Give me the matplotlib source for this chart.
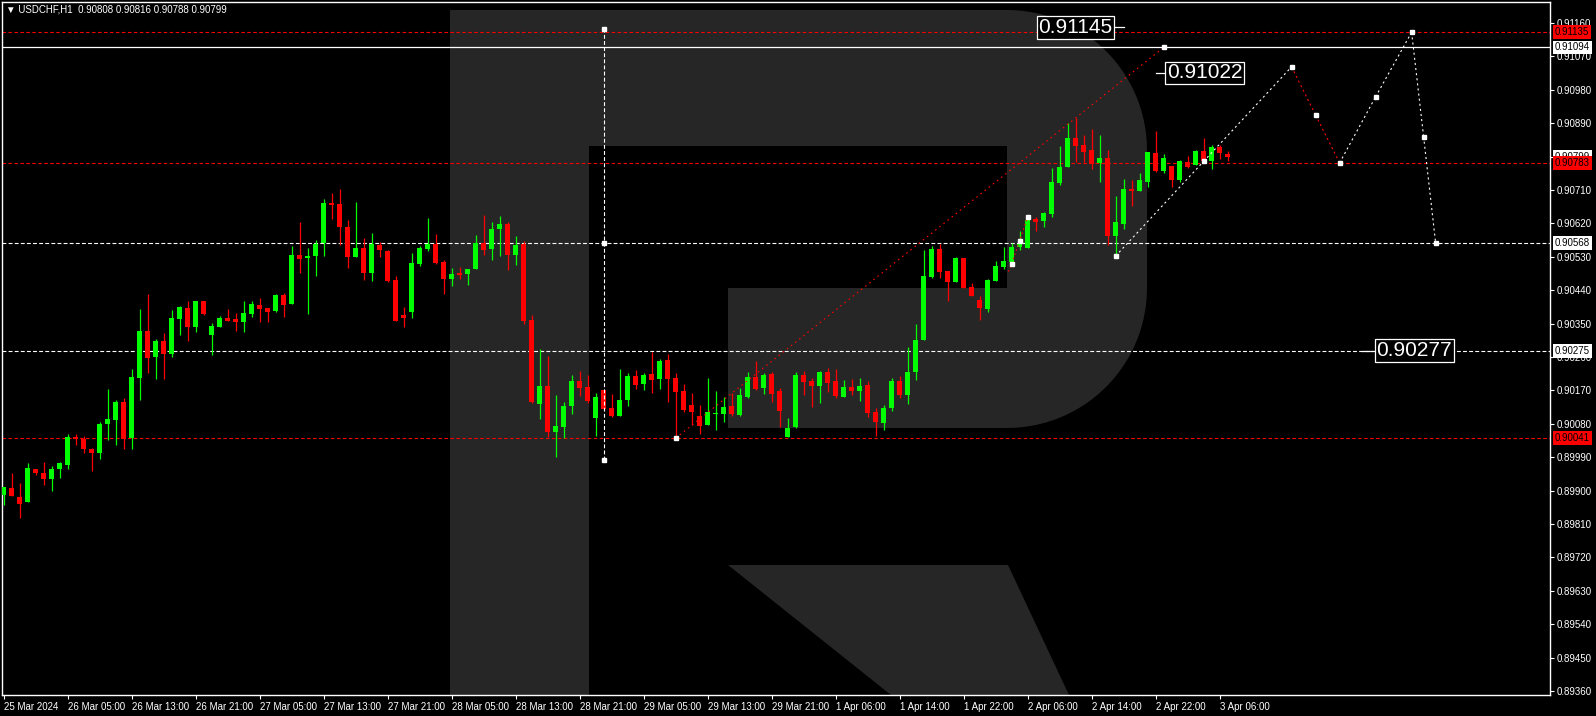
import numpy as np
import matplotlib
matplotlib.use("Agg")
import matplotlib.pyplot as plt
import matplotlib.transforms as mtransforms
from matplotlib.patches import Polygon, Rectangle

plt.rcParams['font.family'] = ['Liberation Sans', 'DejaVu Sans']
plt.rcParams['lines.scale_dashes'] = False

# USDCHF H1 candles (bar 0 .. bar 153)
opens = [0.89888, 0.89907, 0.89883, 0.89868, 0.89958, 0.89948, 0.89932, 0.89957, 0.89969, 0.90043,
         0.90040, 0.90011, 0.90002, 0.90078, 0.90091, 0.90139, 0.90041, 0.90204, 0.90330, 0.90261,
         0.90303, 0.90269, 0.90361, 0.90392, 0.90342, 0.90411, 0.90320, 0.90342, 0.90365, 0.90361,
         0.90353, 0.90377, 0.90400, 0.90392, 0.90385, 0.90427, 0.90404, 0.90535, 0.90528, 0.90533,
         0.90566, 0.90675, 0.90672, 0.90610, 0.90530, 0.90554, 0.90485, 0.90562, 0.90546, 0.90468,
         0.90372, 0.90382, 0.90511, 0.90551, 0.90565, 0.90516, 0.90470, 0.90486, 0.90484, 0.90497,
         0.90567, 0.90551, 0.90605, 0.90618, 0.90535, 0.90565, 0.90360, 0.90133, 0.90182, 0.90058,
         0.90072, 0.90128, 0.90196, 0.90179, 0.90096, 0.90171, 0.90123, 0.90101, 0.90144, 0.90209,
         0.90187, 0.90214, 0.90201, 0.90252, 0.90204, 0.90169, 0.90131, 0.90101, 0.90077, 0.90107,
         0.90107, 0.90128, 0.90104, 0.90152, 0.90206, 0.90177, 0.90214, 0.90169, 0.90045, 0.90072,
         0.90212, 0.90196, 0.90182, 0.90220, 0.90196, 0.90152, 0.90179, 0.90169, 0.90185, 0.90112,
         0.90082, 0.90123, 0.90196, 0.90158, 0.90220, 0.90306, 0.90476, 0.90551, 0.90492, 0.90462,
         0.90527, 0.90449, 0.90414, 0.90390, 0.90465, 0.90503, 0.90516, 0.90556, 0.90554, 0.90632,
         0.90627, 0.90645, 0.90729, 0.90772, 0.90850, 0.90831, 0.90818, 0.90783, 0.90796, 0.90586,
         0.90618, 0.90713, 0.90707, 0.90732, 0.90810, 0.90761, 0.90775, 0.90737, 0.90785, 0.90777,
         0.90815, 0.90788, 0.90826, 0.90808]
highs = [0.89910, 0.89947, 0.89921, 0.89974, 0.89958, 0.89977, 0.89967, 0.89977, 0.90053, 0.90053,
         0.90047, 0.90014, 0.90085, 0.90174, 0.90143, 0.90150, 0.90228, 0.90390, 0.90430, 0.90309,
         0.90325, 0.90387, 0.90398, 0.90411, 0.90411, 0.90411, 0.90352, 0.90371, 0.90390, 0.90379,
         0.90411, 0.90411, 0.90419, 0.90392, 0.90430, 0.90433, 0.90559, 0.90624, 0.90554, 0.90575,
         0.90686, 0.90702, 0.90713, 0.90629, 0.90678, 0.90581, 0.90594, 0.90570, 0.90548, 0.90478,
         0.90395, 0.90540, 0.90559, 0.90635, 0.90592, 0.90522, 0.90500, 0.90503, 0.90497, 0.90589,
         0.90643, 0.90624, 0.90640, 0.90624, 0.90586, 0.90573, 0.90373, 0.90282, 0.90263, 0.90158,
         0.90139, 0.90212, 0.90222, 0.90212, 0.90163, 0.90171, 0.90160, 0.90228, 0.90217, 0.90225,
         0.90217, 0.90274, 0.90255, 0.90268, 0.90217, 0.90187, 0.90163, 0.90131, 0.90204, 0.90169,
         0.90152, 0.90163, 0.90177, 0.90220, 0.90249, 0.90217, 0.90220, 0.90177, 0.90096, 0.90220,
         0.90222, 0.90204, 0.90222, 0.90230, 0.90228, 0.90198, 0.90201, 0.90204, 0.90196, 0.90123,
         0.90131, 0.90204, 0.90209, 0.90287, 0.90349, 0.90548, 0.90559, 0.90565, 0.90492, 0.90530,
         0.90527, 0.90460, 0.90425, 0.90470, 0.90519, 0.90557, 0.90567, 0.90600, 0.90640, 0.90637,
         0.90651, 0.90769, 0.90829, 0.90891, 0.90904, 0.90858, 0.90874, 0.90858, 0.90818, 0.90694,
         0.90740, 0.90737, 0.90756, 0.90812, 0.90869, 0.90807, 0.90775, 0.90791, 0.90802, 0.90818,
         0.90850, 0.90831, 0.90831, 0.90816]
lows = [0.89861, 0.89884, 0.89827, 0.89868, 0.89941, 0.89914, 0.89900, 0.89935, 0.89959, 0.90024,
        0.90002, 0.89954, 0.89986, 0.90035, 0.90024, 0.90011, 0.90011, 0.90145, 0.90218, 0.90201,
        0.90201, 0.90261, 0.90318, 0.90304, 0.90328, 0.90373, 0.90266, 0.90342, 0.90358, 0.90331,
        0.90326, 0.90369, 0.90355, 0.90353, 0.90380, 0.90369, 0.90404, 0.90485, 0.90377, 0.90479,
        0.90533, 0.90633, 0.90563, 0.90501, 0.90530, 0.90468, 0.90466, 0.90530, 0.90463, 0.90358,
        0.90341, 0.90366, 0.90505, 0.90546, 0.90511, 0.90430, 0.90451, 0.90470, 0.90454, 0.90497,
        0.90535, 0.90522, 0.90532, 0.90494, 0.90508, 0.90349, 0.90136, 0.90093, 0.90045, 0.89991,
        0.90042, 0.90107, 0.90155, 0.90136, 0.90047, 0.90117, 0.90098, 0.90101, 0.90128, 0.90174,
        0.90171, 0.90163, 0.90174, 0.90139, 0.90042, 0.90112, 0.90077, 0.90053, 0.90077, 0.90064,
        0.90085, 0.90101, 0.90101, 0.90150, 0.90171, 0.90160, 0.90139, 0.90072, 0.90045, 0.90069,
        0.90158, 0.90125, 0.90136, 0.90166, 0.90150, 0.90152, 0.90158, 0.90142, 0.90099, 0.90047,
        0.90064, 0.90115, 0.90150, 0.90134, 0.90198, 0.90306, 0.90473, 0.90473, 0.90411, 0.90462,
        0.90446, 0.90425, 0.90360, 0.90381, 0.90465, 0.90497, 0.90516, 0.90548, 0.90554, 0.90600,
        0.90610, 0.90637, 0.90724, 0.90772, 0.90785, 0.90785, 0.90767, 0.90732, 0.90562, 0.90532,
        0.90605, 0.90667, 0.90707, 0.90718, 0.90759, 0.90756, 0.90718, 0.90732, 0.90769, 0.90777,
        0.90788, 0.90767, 0.90794, 0.90788]
closes = [0.89910, 0.89884, 0.89865, 0.89961, 0.89946, 0.89932, 0.89958, 0.89974, 0.90044, 0.90038,
          0.90011, 0.90002, 0.90080, 0.90093, 0.90139, 0.90040, 0.90206, 0.90330, 0.90258, 0.90303,
          0.90269, 0.90365, 0.90395, 0.90342, 0.90411, 0.90377, 0.90344, 0.90365, 0.90358, 0.90353,
          0.90379, 0.90403, 0.90390, 0.90382, 0.90427, 0.90401, 0.90535, 0.90525, 0.90532, 0.90565,
          0.90675, 0.90670, 0.90611, 0.90530, 0.90554, 0.90485, 0.90565, 0.90547, 0.90466, 0.90358,
          0.90366, 0.90513, 0.90554, 0.90565, 0.90513, 0.90470, 0.90484, 0.90481, 0.90497, 0.90567,
          0.90548, 0.90605, 0.90618, 0.90535, 0.90562, 0.90357, 0.90139, 0.90182, 0.90058, 0.90074,
          0.90128, 0.90196, 0.90177, 0.90142, 0.90152, 0.90120, 0.90101, 0.90144, 0.90209, 0.90185,
          0.90212, 0.90198, 0.90249, 0.90201, 0.90166, 0.90117, 0.90112, 0.90074, 0.90112, 0.90109,
          0.90126, 0.90107, 0.90158, 0.90206, 0.90174, 0.90212, 0.90160, 0.90115, 0.90069, 0.90212,
          0.90193, 0.90182, 0.90220, 0.90190, 0.90155, 0.90179, 0.90169, 0.90182, 0.90109, 0.90085,
          0.90123, 0.90196, 0.90158, 0.90220, 0.90306, 0.90478, 0.90551, 0.90489, 0.90462, 0.90527,
          0.90446, 0.90425, 0.90392, 0.90468, 0.90505, 0.90519, 0.90557, 0.90565, 0.90629, 0.90624,
          0.90648, 0.90732, 0.90772, 0.90850, 0.90829, 0.90812, 0.90780, 0.90796, 0.90586, 0.90624,
          0.90713, 0.90707, 0.90737, 0.90812, 0.90761, 0.90796, 0.90737, 0.90788, 0.90772, 0.90815,
          0.90788, 0.90826, 0.90810, 0.90799]

time_labels = ["25 Mar 2024", "26 Mar 05:00", "26 Mar 13:00", "26 Mar 21:00", "27 Mar 05:00",
               "27 Mar 13:00", "27 Mar 21:00", "28 Mar 05:00", "28 Mar 13:00", "28 Mar 21:00",
               "29 Mar 05:00", "29 Mar 13:00", "29 Mar 21:00", "1 Apr 06:00", "1 Apr 14:00",
               "1 Apr 22:00", "2 Apr 06:00", "2 Apr 14:00", "2 Apr 22:00", "3 Apr 06:00"]
price_ticks = [0.89360, 0.89450, 0.89540, 0.89630, 0.89720, 0.89810, 0.89900, 0.89990, 0.90080,
               0.90170, 0.90260, 0.90350, 0.90440, 0.90530, 0.90620, 0.90710, 0.90800, 0.90890,
               0.90980, 0.91070, 0.91160]

# levels drawn on the chart
red_levels = [0.91135, 0.90783, 0.90041]
white_levels = [0.90568, 0.90275]
solid_level = 0.91094
bid_price = 0.90799

# analyst drawings (bar index, price)
vert_bar = 75
vert_prices = [0.89982, 0.90568, 0.91145]
trend_x = [84, 145]
trend_y = [0.90041, 0.91094]
small_x = [125.6, 126, 127, 128]
small_y = [0.90490, 0.90511, 0.90573, 0.90637]
path_x = [139, 150, 161, 164, 167, 171.5, 176, 177.5, 179]
path_y = [0.90532, 0.90787, 0.91042, 0.90912, 0.90783, 0.90961, 0.91135, 0.90854, 0.90568]
path_col = ['white', 'white', 'red', 'red', 'white', 'white', 'white', 'white']
tags = ["0.91145", "0.91022", "0.90277"]
tag_x = [139.9, 143.7, 170.2]
tag_y = [0.91148, 0.91026, 0.90277]

W, H = 1596, 716
fig = plt.figure(figsize=(W / 100, H / 100), dpi=100, facecolor='black')

# background with the watermark, in pixel coordinates
bg = fig.add_axes([0, 0, 1, 1], zorder=0)
bg.set_xlim(0, W)
bg.set_ylim(H, 0)
bg.axis('off')
bg.set_facecolor('black')
wm = '#262626'
t1 = np.linspace(np.pi / 2, 0, 30)
t2 = np.linspace(0, -np.pi / 2, 30)
r = 140
outer = [(450, 10), (1007, 10)]
outer += [(1007 + r * np.cos(t), 150 - r * np.sin(t)) for t in t1]
outer += [(1007 + r * np.cos(t), 288 - r * np.sin(t)) for t in t2]
outer += [(728, 428), (728, 288), (589, 288), (589, 695), (450, 695)]
bg.add_patch(Polygon(outer, closed=True, fc=wm, ec='none'))
bg.add_patch(Rectangle((589, 146), 418, 142, fc='black', ec='none'))
bg.add_patch(Polygon([(728, 565), (1008, 565), (1069, 695), (891, 695)], closed=True, fc=wm, ec='none'))

ax = fig.add_axes([2 / W, 21 / H, 1548 / W, 693 / H], zorder=1)
ax.set_facecolor('none')
ax.set_xlim(-0.2, 193.3)
ax.set_ylim(0.89349, 0.912166)

o = np.array(opens)
h = np.array(highs)
l = np.array(lows)
c = np.array(closes)
x = np.arange(len(o))
cols = np.where(c >= o, '#00ff00', '#ff0000')
ax.vlines(x, l, h, colors=cols, lw=0.9, zorder=3)
body = np.maximum(np.abs(c - o), 0.00003)
ax.bar(x, body, bottom=np.minimum(o, c), width=0.62, color=cols, lw=0, zorder=3)

# horizontal levels
for p in red_levels:
    ax.axhline(p, color='#ff0000', lw=0.8, ls=(0, (2.5, 1.8)), zorder=2)
for p in white_levels:
    ax.axhline(p, color='white', lw=0.8, ls=(0, (2.8, 1.6)), zorder=2)
ax.axhline(solid_level, color='white', lw=0.9, zorder=2)

# drawings
ax.plot([vert_bar] * 2, [vert_prices[0], vert_prices[-1]], color='white', lw=0.8,
        ls=(0, (2.8, 1.6)), zorder=4)
ax.plot([vert_bar] * 3, vert_prices, ls='none', marker='s', ms=3, color='white', zorder=5)
ax.plot(trend_x, trend_y, color='#ff0000', lw=0.8, ls=(0, (1.2, 2.6)), zorder=4)
ax.plot(trend_x, trend_y, ls='none', marker='s', ms=3, color='white', zorder=5)
ax.plot(small_x, small_y, color='#ff0000', lw=0.8, ls=(0, (1.2, 2.0)), zorder=4)
ax.plot(small_x[1:], small_y[1:], ls='none', marker='s', ms=3, color='white', zorder=5)
for k in range(len(path_x) - 1):
    ax.plot(path_x[k:k + 2], path_y[k:k + 2], color=path_col[k], lw=0.8,
            ls=(0, (1.5, 2.2)), zorder=4)
ax.plot(path_x, path_y, ls='none', marker='s', ms=3, color='white', zorder=5)

# big price tags
ax.plot([138.8, 140.0], [tag_y[0]] * 2, color='white', lw=0.9, zorder=5)
ax.text(tag_x[0] - 1.3, tag_y[0], tags[0], ha='right', va='center', color='white', fontsize=15,
        bbox=dict(boxstyle='square,pad=0.08', fc='black', ec='white', lw=0.9), zorder=6)
ax.plot([144.1, 145.3], [tag_y[1]] * 2, color='white', lw=0.9, zorder=5)
ax.text(tag_x[1] + 1.7, tag_y[1], tags[1], ha='left', va='center', color='white', fontsize=15,
        bbox=dict(boxstyle='square,pad=0.08', fc='black', ec='white', lw=0.9), zorder=6)
ax.plot([169.8, 171.2], [tag_y[2]] * 2, color='white', lw=0.9, zorder=5)
ax.text(tag_x[2] + 1.4, tag_y[2], tags[2], ha='left', va='center', color='white', fontsize=15,
        bbox=dict(boxstyle='square,pad=0.08', fc='black', ec='white', lw=0.9), zorder=6)

# axes styling
for s in ax.spines.values():
    s.set_color('white')
    s.set_linewidth(1)
ax.yaxis.tick_right()
ax.set_yticks(price_ticks)
ax.set_yticklabels([f"{p:.5f}" for p in price_ticks])
ax.set_xticks(np.arange(0, len(o), 8)[:len(time_labels)])
ax.set_xticklabels(time_labels, ha='left')
ax.tick_params(axis='both', colors='white', labelcolor='white', labelsize=7, length=3, width=0.8)
ax.tick_params(axis='y', pad=2)
ax.tick_params(axis='x', pad=2)

# price boxes on the right scale
trans = mtransforms.blended_transform_factory(ax.transAxes, ax.transData)
box_x = 1 + 5 / 1548
ax.text(box_x, bid_price, f"{bid_price:.5f}", transform=trans, ha='left', va='center', fontsize=7,
        color='black', bbox=dict(boxstyle='square,pad=0.2', fc='white', ec='none'), zorder=7, clip_on=False)
for p in white_levels + [solid_level]:
    ax.text(box_x, p, f"{p:.5f}", transform=trans, ha='left', va='center', fontsize=7, color='black',
            bbox=dict(boxstyle='square,pad=0.2', fc='white', ec='none'), zorder=7, clip_on=False)
for p in red_levels:
    ax.text(box_x, p, f"{p:.5f}", transform=trans, ha='left', va='center', fontsize=7, color='black',
            bbox=dict(boxstyle='square,pad=0.2', fc='#ff0000', ec='none'), zorder=8, clip_on=False)

fig.text(6 / W, 1 - 10 / H, "\u25bc USDCHF,H1  0.90808 0.90816 0.90788 0.90799", color='white',
         fontsize=7, va='center', ha='left')

fig.savefig('out.png', dpi=100, facecolor='black')
